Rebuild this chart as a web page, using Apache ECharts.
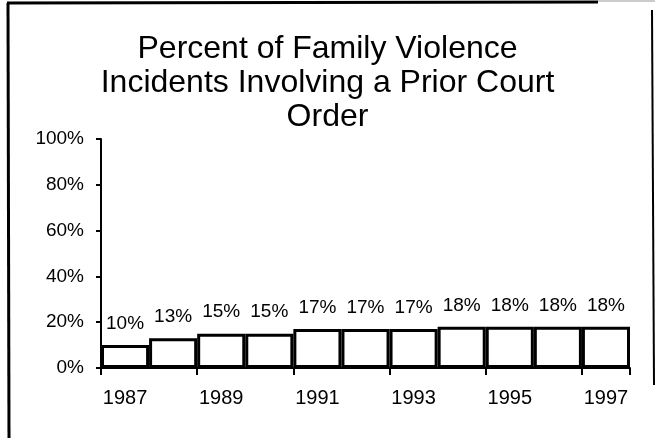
<!DOCTYPE html>
<html lang="en">

<head>
    <meta charset="UTF-8">
    <script src="https://cdn.jsdelivr.net/npm/echarts@6/dist/echarts.min.js"></script>
    <style>
        html, body {
            margin: 0;
            padding: 0;
            background-color: #ffffff;
        }
    </style>
</head>

<body>
    <div id="main" style="width: 655px;height:438px;"></div>
    <script type="text/javascript">
        const years = ['1987', '1988', '1989', '1990', '1991', '1992', '1993', '1994', '1995', '1996', '1997'];
        const percents = [10, 13, 15, 15, 17, 17, 17, 18, 18, 18, 18];
        const yTicks = [0, 20, 40, 60, 80, 100];
        const titleText = 'Percent of Family Violence\nIncidents Involving a Prior Court\nOrder';

        const font = '"Liberation Sans", Arial, sans-serif';
        var myChart = echarts.init(document.getElementById('main'));
        myChart.setOption({
            animation: false,
            backgroundColor: '#ffffff',
            textStyle: { fontFamily: font },
            // scanned frame lines around the chart
            graphic: [
                { type: 'line', silent: true, shape: { x1: 8, y1: 3, x2: 9, y2: 438 }, style: { stroke: '#000', lineWidth: 3 } },
                { type: 'line', silent: true, shape: { x1: 7, y1: 3, x2: 598, y2: 2 }, style: { stroke: '#000', lineWidth: 3 } },
                { type: 'line', silent: true, shape: { x1: 598, y1: 1, x2: 655, y2: 1 }, style: { stroke: '#ccc', lineWidth: 2 } },
                { type: 'line', silent: true, shape: { x1: 652, y1: 10, x2: 654, y2: 385 }, style: { stroke: '#000', lineWidth: 2 } }
            ],
            title: {
                text: titleText,
                left: 'center',
                top: 27,
                textStyle: {
                    fontSize: 32,
                    fontWeight: 'normal',
                    color: '#000',
                    lineHeight: 34,
                    fontFamily: font
                }
            },
            grid: { left: 101, right: 25, top: 139, bottom: 70 },
            xAxis: {
                type: 'category',
                data: years,
                boundaryGap: true,
                axisLine: { lineStyle: { color: '#000', width: 2 } },
                axisTick: { show: true, alignWithLabel: false, length: 7, lineStyle: { color: '#000', width: 2 } },
                axisLabel: { interval: 1, color: '#000', fontSize: 20, margin: 20, fontFamily: font }
            },
            yAxis: {
                type: 'value',
                min: yTicks[0],
                max: yTicks[yTicks.length - 1],
                interval: 20,
                splitLine: { show: false },
                axisLine: { show: true, lineStyle: { color: '#000', width: 2 } },
                axisTick: { show: true, length: 5, lineStyle: { color: '#000', width: 2 } },
                axisLabel: { color: '#000', fontSize: 19, margin: 17, formatter: '{value}%', fontFamily: font }
            },
            series: [{
                type: 'bar',
                data: percents,
                barCategoryGap: '0%',
                itemStyle: { color: '#ffffff', borderColor: '#000', borderWidth: 3 },
                label: {
                    show: true,
                    position: 'top',
                    distance: 12,
                    color: '#000',
                    fontSize: 19,
                    formatter: '{c}%',
                    fontFamily: font
                }
            }]
        });
    </script>
</body>

</html>
